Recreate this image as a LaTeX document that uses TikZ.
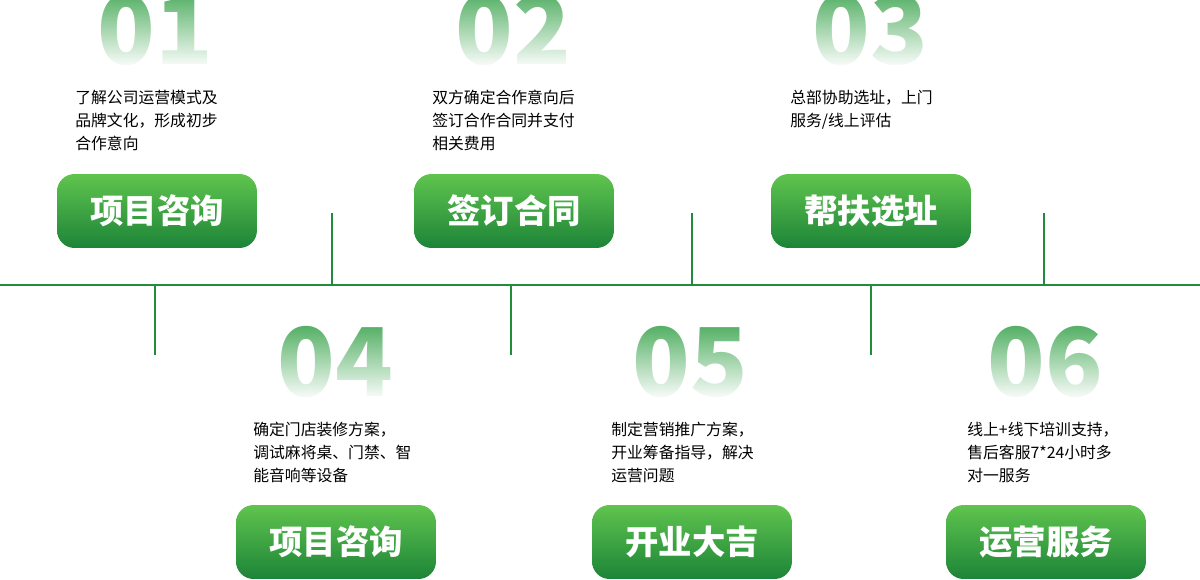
\documentclass[tikz,border=0pt]{standalone}
\usepackage{fontspec}
\setmainfont{Noto Sans CJK SC}
\usetikzlibrary{positioning, fadings}
\definecolor{lineGreen}{RGB}{34,139,60}
\definecolor{btnTop}{RGB}{96,196,78}
\definecolor{btnBot}{RGB}{28,132,56}
\definecolor{numGreen}{RGB}{50,160,70}
\tikzfading[name=numfade, top color=transparent!85, bottom color=transparent!0]

\begin{document}
\begin{tikzpicture}[
    x=0.02cm, y=-0.02cm,
    stage/.style={
      rectangle,
      rounded corners=10,
      minimum width=4cm,
      minimum height=1.48cm,
      top color=btnTop,
      bottom color=btnBot,
      draw=none,
      text=white,
      font=\fontsize{19}{19}\selectfont\bfseries
    },
    desc/.style={font=\fontsize{9}{13}\selectfont, align=left, anchor=north west, inner sep=0pt},
    num/.style={font=\fontsize{54}{54}\selectfont\bfseries, text=numGreen, inner sep=0pt}
]
\useasboundingbox (0,0) rectangle (1200,580);

% Zeitachse
\draw[lineGreen, line width=1.5pt] (0,285) coordinate (axisL) -- (1200,285) coordinate (axisR);

% Markierungen
\foreach \x in {332,692,1044} \draw[lineGreen, line width=1.2pt] (\x,213) -- (\x,285);
\foreach \x in {155,511,871} \draw[lineGreen, line width=1.2pt] (\x,285) -- (\x,355);

% Nummern (mit Verlauf nach unten)
\node[num] (n1) at (155,30) {01};
\node[num] (n2) at (513,30) {02};
\node[num] (n3) at (870,30) {03};
\node[num] (n4) at (335,362) {04};
\node[num] (n5) at (690,362) {05};
\node[num] (n6) at (1045,362) {06};
\foreach \x/\y in {155/30,513/30,870/30,335/362,690/362,1045/362}
  \fill[white, path fading=numfade] (\x-80,\y-38) rectangle (\x+80,\y+38);

% Beschreibungen
\node[desc] (d1) at (75,90) {了解公司运营模式及\\品牌文化，形成初步\\合作意向};
\node[desc] (d2) at (432,90) {双方确定合作意向后\\签订合作合同并支付\\相关费用};
\node[desc] (d3) at (790,90) {总部协助选址，上门\\服务/线上评估};
\node[desc] (d4) at (253,422) {确定门店装修方案，\\调试麻将桌、门禁、智\\能音响等设备};
\node[desc] (d5) at (611,422) {制定营销推广方案，\\开业筹备指导，解决\\运营问题};
\node[desc] (d6) at (967,422) {线上+线下培训支持，\\售后客服7*24小时多\\对一服务};

% Schaltflaechen
\node[stage] (s1) at (157,211) {项目咨询};
\node[stage] (s2) at (514,211) {签订合同};
\node[stage] (s3) at (871,211) {帮扶选址};
\node[stage] (s4) at (336,542) {项目咨询};
\node[stage] (s5) at (692,542) {开业大吉};
\node[stage] (s6) at (1046,542) {运营服务};

\end{tikzpicture}
\end{document}
